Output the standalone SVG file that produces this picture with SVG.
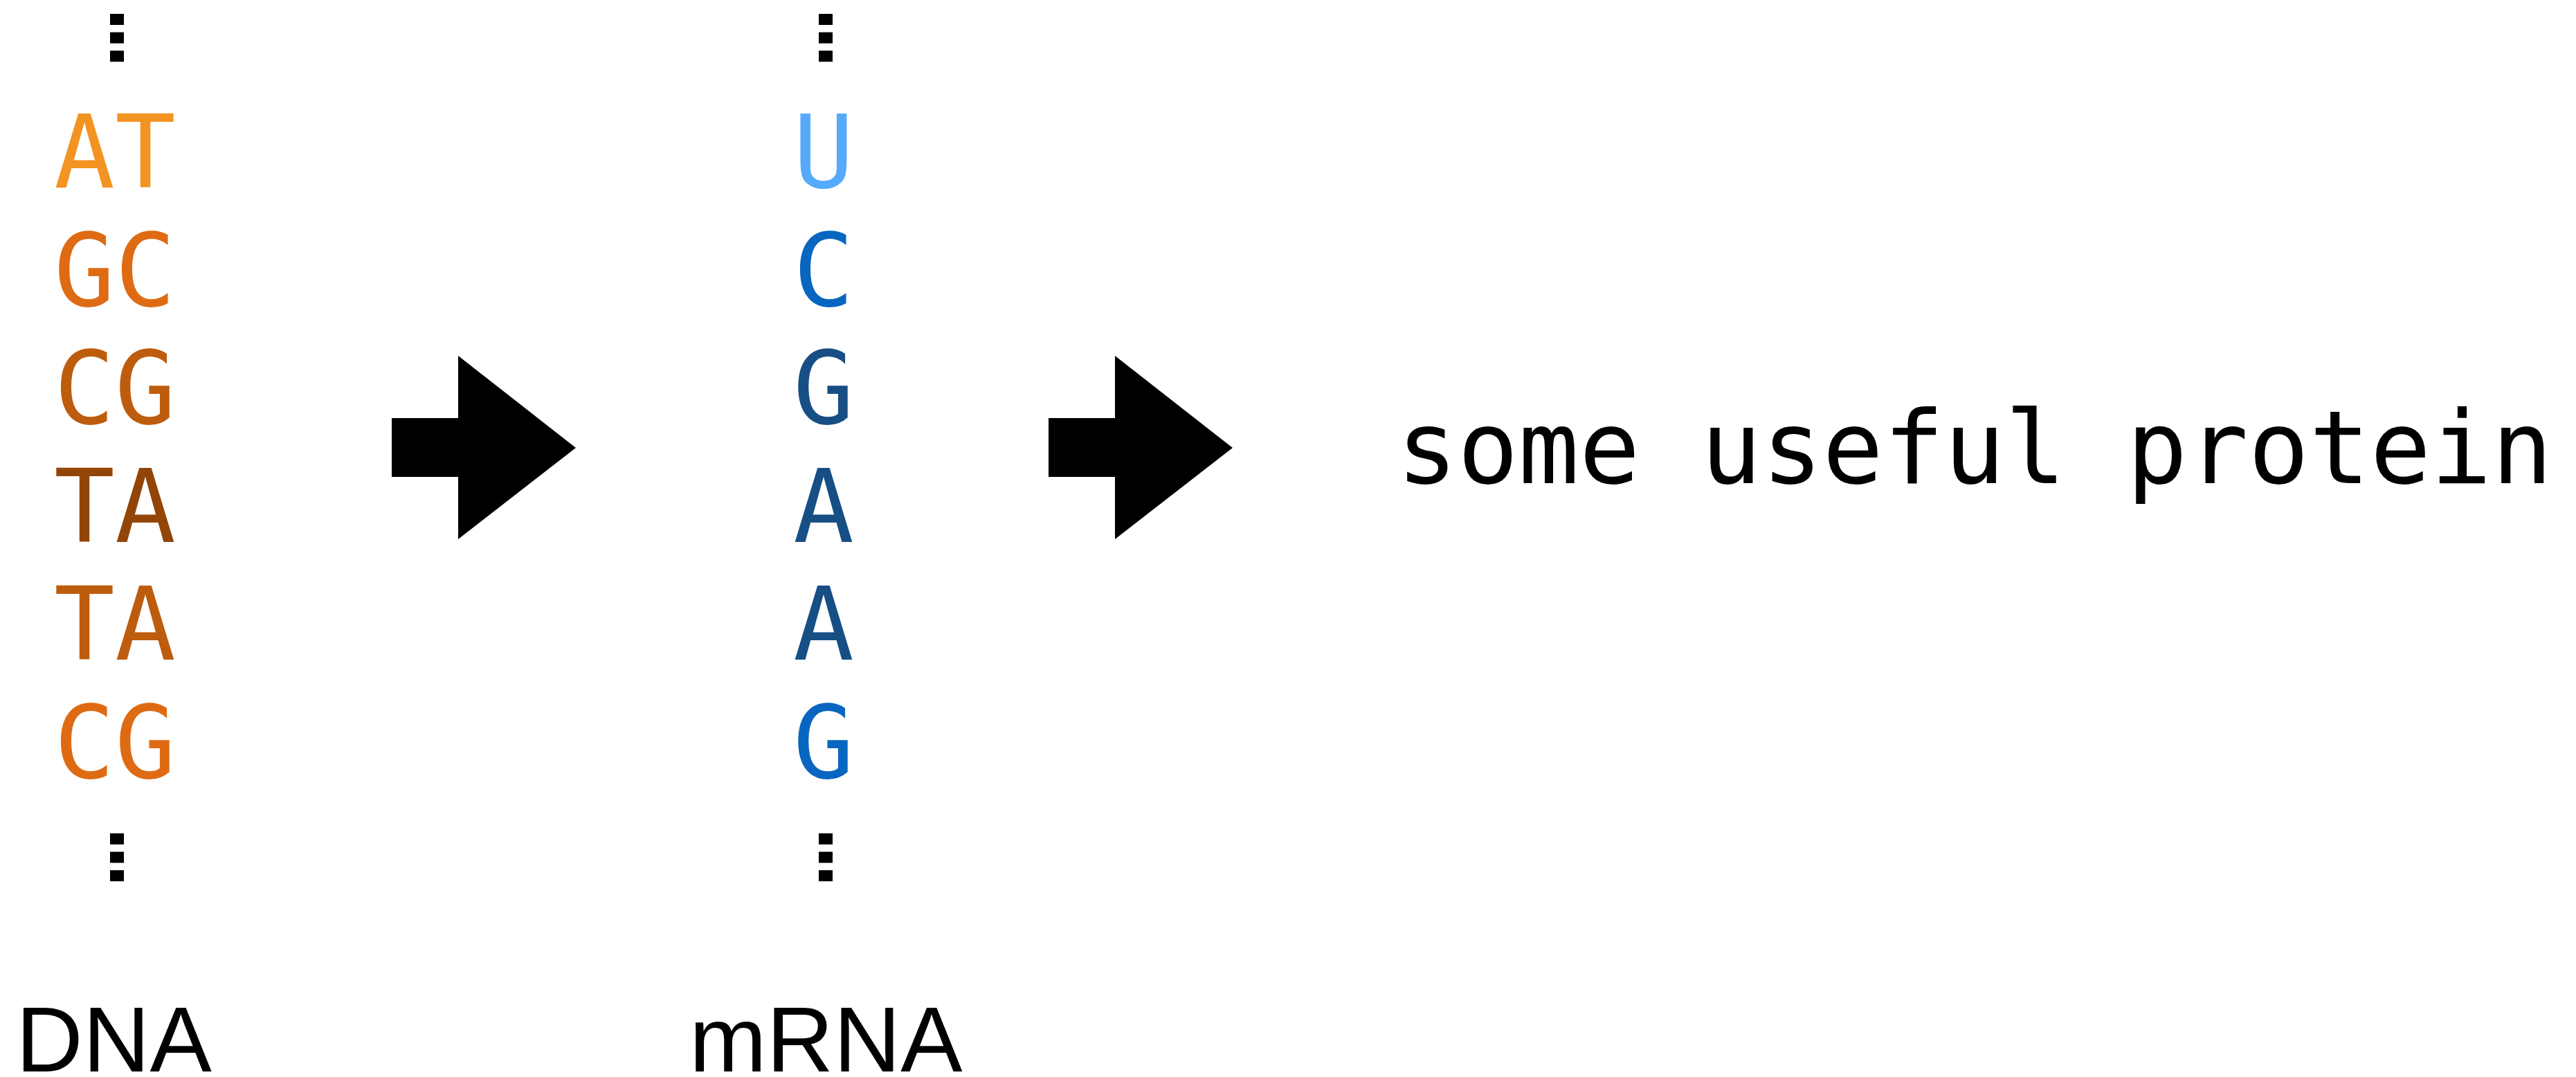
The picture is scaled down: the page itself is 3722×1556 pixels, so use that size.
<svg xmlns="http://www.w3.org/2000/svg" width="3722" height="1556" viewBox="0 0 3722 1556">
<style>
.b{font-family:"DejaVu Sans Mono",monospace;font-size:146px;text-anchor:middle}
.lbl{font-family:"Liberation Sans",Arial,sans-serif;font-size:134px;fill:#000}
.prot{font-family:"DejaVu Sans Mono",monospace;font-size:146px;fill:#000}
.arrow{fill:#000}
</style>
<defs>
<g id="vdots">
<rect x="0" y="0" width="20" height="16" fill="#000"/>
<rect x="0" y="26.6" width="20" height="16" fill="#000"/>
<rect x="0" y="53.2" width="20" height="16" fill="#000"/>
</g>
</defs>
<rect width="3722" height="1556" fill="#fff"/>
<g id="dna">
<use href="#vdots" x="159" y="20"/>
<text class="b" x="166" y="271" fill="#F39322">AT</text>
<text class="b" x="166" y="441.6" fill="#DE6B14">GC</text>
<text class="b" x="166" y="612.2" fill="#BE5C0E">CG</text>
<text class="b" x="166" y="782.8" fill="#934508">TA</text>
<text class="b" x="166" y="953.4" fill="#BE5C0E">TA</text>
<text class="b" x="166" y="1124" fill="#DE6B14">CG</text>
<use href="#vdots" x="159" y="1204"/>
<text class="lbl" x="23" y="1548">DNA</text>
</g>
<g id="mrna">
<use href="#vdots" x="1183" y="20"/>
<text class="b" x="1190" y="271" fill="#55AAFC">U</text>
<text class="b" x="1190" y="441.6" fill="#0866C0">C</text>
<text class="b" x="1190" y="612.2" fill="#174F85">G</text>
<text class="b" x="1190" y="782.8" fill="#174F85">A</text>
<text class="b" x="1190" y="953.4" fill="#174F85">A</text>
<text class="b" x="1190" y="1124" fill="#0866C0">G</text>
<use href="#vdots" x="1183" y="1204"/>
<text class="lbl" x="996" y="1548">mRNA</text>
</g>
<g id="protein">
<text class="prot" x="2018" y="698">some useful protein</text>
</g>
<g id="connectors">
<polygon class="arrow" points="566,604 662,604 662,514 832,647 662,779 662,689 566,689"/>
<polygon class="arrow" points="1515,604 1611,604 1611,514 1781,647 1611,779 1611,689 1515,689"/>
</g>
</svg>
